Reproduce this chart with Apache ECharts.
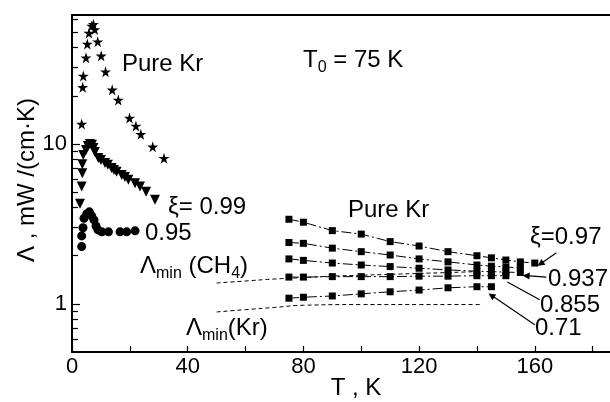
<!DOCTYPE html>
<html>
<head>
<meta charset="utf-8">
<script src="https://cdn.jsdelivr.net/npm/echarts@6/dist/echarts.min.js"></script>
<style>
  html, body { margin: 0; padding: 0; background: #fff; }
  #chart { width: 610px; height: 402px; }
</style>
</head>
<body>
<div id="chart"></div>
<script>
// low T: pure Kr (stars), xi=0.99 (triangles), xi=0.95 (circles)
const starT = [3.35, 3.7, 3.9, 4.84, 5.29, 5.87, 6.8, 7.4, 7.9, 8.9, 10.1, 11.6, 13.9, 16.0, 19.9, 22.1, 23.8, 27.9, 31.8];
const starVal = [13.3, 22.6, 26.6, 34.6, 42.2, 49.4, 54.7, 56.0, 52.0, 43.6, 35.6, 28.3, 21.8, 18.8, 14.5, 12.96, 11.5, 9.6, 8.14];

const triT = [2.76, 3.35, 3.56, 3.56, 3.9, 4.84, 5.5, 6.2, 6.9, 7.4, 7.9, 9.1, 10.0, 11.4, 12.4, 13.7, 14.5, 15.4, 17.2, 18.3, 19.5, 21.8, 23.5, 25.6, 28.7];
const triVal = [4.22, 5.41, 6.56, 7.47, 8.54, 9.17, 9.7, 10.0, 9.9, 9.44, 8.9, 8.17, 7.94, 7.6, 7.4, 7.08, 6.87, 6.71, 6.4, 6.22, 5.96, 5.68, 5.41, 5.03, 4.47];

const circT = [3.35, 3.35, 3.8, 4.15, 5.1, 6.0, 6.8, 7.6, 8.3, 9.0, 10.3, 12.6, 16.6, 18.9, 21.8];
const circVal = [2.28, 2.66, 2.99, 3.43, 3.65, 3.76, 3.55, 3.35, 3.07, 2.9, 2.82, 2.82, 2.82, 2.82, 2.86];

// high T rows (squares)
const sqT = [75, 80, 90, 100, 110, 120, 130, 140, 145, 150, 155, 160];
const row1 = [3.38, 3.24, 2.87, 2.73, 2.45, 2.30, 2.12, 2.00, 1.94, 1.88, 1.83, 1.80];
const row2 = [2.42, 2.39, 2.23, 2.12, 2.02, 1.91, 1.83, 1.75, 1.72, 1.70, 1.68];
const row3 = [1.91, 1.87, 1.80, 1.75, 1.71, 1.67, 1.63, 1.60, 1.59, 1.58, 1.57];
const row4 = [1.47, 1.47, 1.48, 1.48, 1.48, 1.49, 1.49, 1.50, 1.50, 1.50];
const row5 = [1.085, 1.10, 1.12, 1.155, 1.19, 1.22, 1.26, 1.28, 1.28];

// Lambda_min curves (dashed)
const ch4T = [50, 60, 70, 80, 90, 100, 110, 120, 130, 140];
const ch4Val = [1.35, 1.39, 1.43, 1.46, 1.49, 1.51, 1.53, 1.55, 1.57, 1.59];
const krMinT = [50, 60, 70, 80, 100, 120, 142];
const krMinVal = [0.89, 0.92, 0.95, 0.98, 0.99, 0.99, 0.99];

// axis ticks
const xTicks = [0, 20, 40, 60, 80, 100, 120, 140, 160, 180];
const xLabels = [0, 40, 80, 120, 160];
const yMajor = [1, 10];
const yMinor = [0.6, 0.7, 0.8, 0.9, 2, 3, 4, 5, 6, 7, 8, 9, 20, 30, 40, 50, 60];

const pairs = (xs, ys) => ys.map((v, i) => [xs[i], v]);
const starPath = 'path://M50,0 L61,35 L98,35 L68,57 L79,91 L50,70 L21,91 L32,57 L2,35 L39,35 Z';
const FONT = '"Liberation Sans", Arial, sans-serif';
const black = { color: '#000', opacity: 1 };

function sqSeries(vals) {
  return {
    type: 'line', data: pairs(sqT, vals), symbol: 'rect', symbolSize: 7,
    itemStyle: black,
    lineStyle: { color: '#000', width: 1, type: [10, 3, 2, 3] },
    z: 3
  };
}

const plain = (x, y, text) => ({
  type: 'text', x: x, y: y,
  style: { text: text, font: '24px ' + FONT, fill: '#000', verticalAlign: 'middle' }
});

const richSub = {
  a: { fontSize: 24, fontFamily: FONT, lineHeight: 32, verticalAlign: 'middle', color: '#000' },
  s: { fontSize: 16, fontFamily: FONT, lineHeight: 16, verticalAlign: 'bottom', color: '#000' }
};
const subbed = (x, y, text) => ({
  type: 'text', x: x, y: y, style: { text: text, rich: richSub, verticalAlign: 'middle' }
});

const option = {
  animation: false,
  backgroundColor: '#fff',
  grid: { left: 72, top: 15, right: 0, bottom: 50 },
  xAxis: [{
    type: 'value', min: 0, max: 186, interval: 20,
    axisLine: { lineStyle: { color: '#000', width: 2 } },
    axisTick: { inside: true, length: 6, lineStyle: { color: '#000', width: 1.2 }, customValues: xTicks },
    axisLabel: { margin: 4, fontSize: 22, fontFamily: FONT, color: '#000', customValues: xLabels },
    splitLine: { show: false }
  }, {
    type: 'value', position: 'top', min: 0, max: 186,
    axisLine: { show: true, lineStyle: { color: '#000', width: 2 } },
    axisTick: { show: false }, axisLabel: { show: false }, splitLine: { show: false }
  }],
  yAxis: [{
    type: 'log', min: 0.5, max: 64,
    axisLine: { show: true, lineStyle: { color: '#000', width: 2 } },
    axisTick: { inside: true, length: 8, lineStyle: { color: '#000', width: 1.2 }, customValues: yMajor },
    axisLabel: { margin: 5, fontSize: 22, fontFamily: FONT, color: '#000', customValues: yMajor },
    splitLine: { show: false }
  }, {
    type: 'log', min: 0.5, max: 64, position: 'left',
    axisLine: { show: false },
    axisTick: { inside: true, length: 6, lineStyle: { color: '#000', width: 1.2 }, customValues: yMinor },
    axisLabel: { show: false },
    splitLine: { show: false }
  }],
  series: [
    { type: 'line', data: pairs(ch4T, ch4Val), symbol: 'none', smooth: true,
      lineStyle: { color: '#000', width: 1, type: [4, 3] }, z: 1 },
    { type: 'line', data: pairs(krMinT, krMinVal), symbol: 'none', smooth: true,
      lineStyle: { color: '#000', width: 1, type: [4, 3] }, z: 1 },
    { type: 'scatter', data: pairs(starT, starVal), symbol: starPath, symbolSize: 11, itemStyle: black },
    { type: 'scatter', data: pairs(triT, triVal), symbol: 'triangle', symbolRotate: 180, symbolSize: 10, itemStyle: black },
    { type: 'scatter', data: pairs(circT, circVal), symbol: 'circle', symbolSize: 9, itemStyle: black },
    sqSeries(row1), sqSeries(row2), sqSeries(row3), sqSeries(row4), sqSeries(row5),
    {
      // pointer lines from labels to the curves
      type: 'line', data: [], silent: true,
      markLine: {
        silent: true, animation: false, label: { show: false },
        lineStyle: { color: '#000', width: 1.2, type: 'solid' },
        symbol: ['none', 'triangle'], symbolSize: 7,
        data: [
          [{ coord: [167.5, 2.09] }, { coord: [162, 1.78] }],
          [{ coord: [164, 1.47] }, { coord: [157, 1.50] }],
          [{ coord: [161.7, 1.06], symbol: 'none' }, { coord: [150.5, 1.37], symbol: 'none' }],
          [{ coord: [160, 0.74] }, { coord: [145, 1.13] }]
        ]
      }
    }
  ],
  graphic: [
    { type: 'text', x: 27, y: 180, rotation: Math.PI / 2,
      style: { text: 'Λ , mW /(cm·K)', font: '24px ' + FONT, fill: '#000', align: 'center', verticalAlign: 'middle' } },
    { type: 'text', x: 356, y: 388,
      style: { text: 'T , K', font: '24px ' + FONT, fill: '#000', align: 'center', verticalAlign: 'middle' } },
    plain(122, 64, 'Pure Kr'),
    subbed(303, 60, '{a|T}{s|0}{a| = 75 K}'),
    plain(168, 207, 'ξ= 0.99'),
    plain(145, 233, '0.95'),
    subbed(140, 266, '{a|Λ}{s|min}{a| (CH}{s|4}{a|)}'),
    plain(348, 210, 'Pure Kr'),
    plain(530, 237, 'ξ=0.97'),
    plain(548, 279, '0.937'),
    plain(540, 305, '0.855'),
    plain(535, 328, '0.71'),
    subbed(186, 328, '{a|Λ}{s|min}{a|(Kr)}')
  ]
};

const chart = echarts.init(document.getElementById('chart'), null, { renderer: 'canvas' });
chart.setOption(option);
</script>
</body>
</html>
